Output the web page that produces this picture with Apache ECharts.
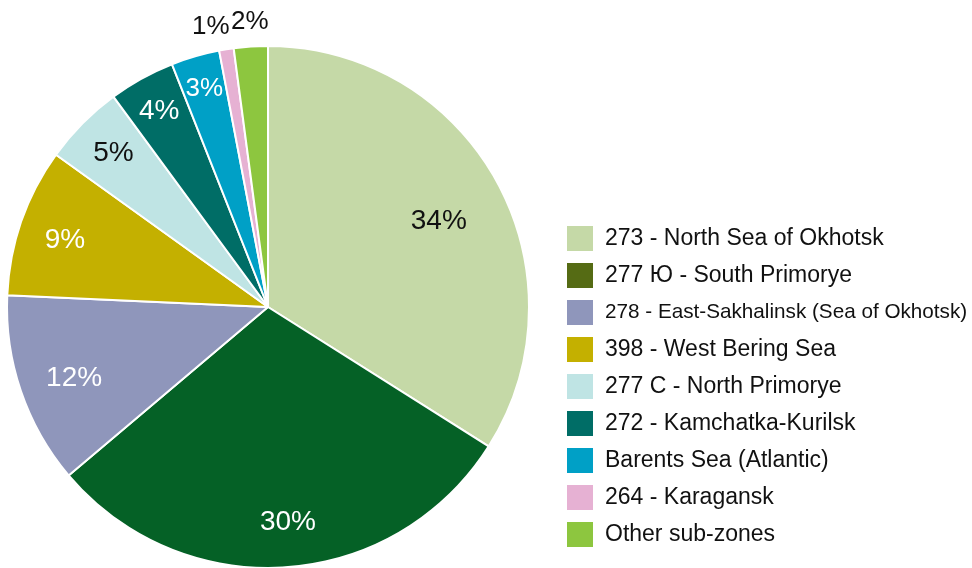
<!DOCTYPE html>
<html>
<head>
<meta charset="utf-8">
<script src="https://cdn.jsdelivr.net/npm/echarts@6/dist/echarts.min.js"></script>
<style>
  html, body { margin: 0; padding: 0; background: #fff; }
  #chart { width: 972px; height: 568px; }
</style>
</head>
<body>
<div id="chart"></div>
<script>
// sub-zone shares of the catch, percent
const zones = [
  '273 - North Sea of Okhotsk',
  '277 Ю - South Primorye',
  '278 - East-Sakhalinsk (Sea of Okhotsk)',
  '398 - West Bering Sea',
  '277 C - North Primorye',
  '272 - Kamchatka-Kurilsk',
  'Barents Sea (Atlantic)',
  '264 - Karagansk',
  'Other sub-zones'
]
const shares = [34.0, 29.9, 11.9, 9.2, 5.0, 4.1, 3.0, 0.9, 2.1]
const shareLabels = ['34%', '30%', '12%', '9%', '5%', '4%', '3%', '1%', '2%']

const SLICE_COLORS = ['#c5d9a7', '#056126', '#8f96bb', '#c4b000', '#bfe4e4', '#006d66', '#00a0c6', '#e6b1d3', '#8dc63f']
// legend swatch for the 2nd zone differs from its slice in the source chart
const LEGEND_COLORS = ['#c5d9a7', '#556b14', '#8f96bb', '#c4b000', '#bfe4e4', '#006d66', '#00a0c6', '#e6b1d3', '#8dc63f']
const LABEL_COLORS = ['#111', '#fff', '#fff', '#fff', '#111', '#fff', '#fff', '#111', '#111']
const LABEL_SIZE = [28, 28, 28, 28, 28, 28, 26, 26, 26]
// where each percent label sits: distance from centre plus a small nudge (px)
const LABEL_DIST = [192, 213, 206, 214, 220, 226, 229, 287, 287]
const LABEL_DX = [0, 5, 4, 2, 4, 2, 1, -11, 1]
const LABEL_DY = [8, 0, 4, 4, 3, 5, 5, 6, 4]

const FONT = '"Liberation Sans", Arial, sans-serif'
const CENTER = [268, 307]

const chart = echarts.init(document.getElementById('chart'))

// transparent helper pie: its "inside" label sits at half its radius
function labelSeries(k) {
  return {
    type: 'pie',
    center: CENTER,
    radius: [0, LABEL_DIST[k] * 2],
    silent: true,
    legendHoverLink: false,
    itemStyle: { color: 'rgba(0,0,0,0)', borderWidth: 0 },
    emphasis: { disabled: true },
    labelLine: { show: false },
    labelLayout: { hideOverlap: false, dx: LABEL_DX[k], dy: LABEL_DY[k] },
    data: zones.map((z, i) => ({
      name: z,
      value: shares[i],
      label: {
        show: i === k,
        position: 'inside',
        formatter: shareLabels[i],
        color: LABEL_COLORS[i],
        fontSize: LABEL_SIZE[i],
        fontFamily: FONT
      }
    }))
  }
}

chart.setOption({
  animation: false,
  legend: {
    orient: 'vertical',
    left: 565,
    top: 224,
    padding: 0,
    itemWidth: 28,
    itemHeight: 27,
    itemGap: 8,
    icon: 'rect',
    selectedMode: false,
    textStyle: {
      fontFamily: FONT,
      fontSize: 23,
      lineHeight: 27,
      color: '#111',
      padding: [0, 0, 0, 6],
      rich: { narrow: { fontFamily: FONT, fontSize: 20.7, lineHeight: 27, color: '#111' } }
    },
    formatter: name => name.startsWith('278') ? '{narrow|' + name + '}' : name,
    data: zones.map((z, i) => ({ name: z, itemStyle: { color: LEGEND_COLORS[i] } }))
  },
  series: [
    {
      type: 'pie',
      center: CENTER,
      radius: [0, 261],
      startAngle: 90,
      clockwise: true,
      label: { show: false },
      labelLine: { show: false },
      itemStyle: { borderColor: '#fff', borderWidth: 2 },
      emphasis: { disabled: true },
      data: zones.map((z, i) => ({ name: z, value: shares[i], itemStyle: { color: SLICE_COLORS[i] } }))
    }
  ].concat(zones.map((z, k) => labelSeries(k)))
})
</script>
</body>
</html>
